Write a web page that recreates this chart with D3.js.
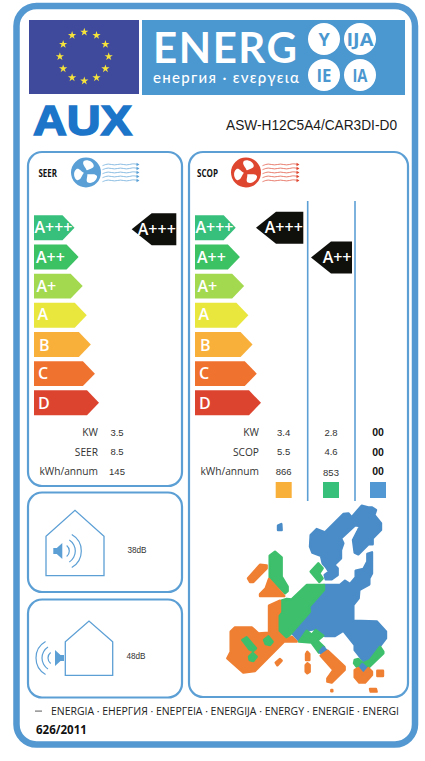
<!DOCTYPE html>
<html><head><meta charset="utf-8">
<script src="https://cdn.jsdelivr.net/npm/d3@7/dist/d3.min.js"></script>
<style>html,body{margin:0;padding:0;background:#fff}svg{display:block}text{font-family:"Open Sans",sans-serif}</style>
</head><body><svg id="c" width="425" height="761"></svg>
<script>
const classes=["A+++","A++","A+","A","B","C","D"];
const classColors=["#37bf7c","#3cc163","#a3d94e","#e9e63d","#f9b03b","#f0722f","#dd442f"];
const seerRating=["A+++"];
const scopRatings=["A+++","A++"];
const seerLabels=["KW","SEER","kWh/annum"];
const seerValues=["3.5","8.5","145"];
const scopLabels=["KW","SCOP","kWh/annum"];
const scopValues=[["3.4","5.5","866"],["2.8","4.6","853"],["00","00","00"]];
const zoneColors=["#f9b03b","#37c07a","#5298d2"];
const noiseLabels=["38dB","48dB"];
const bannerWords=["Y","IJA","IE","IA"];
const footerText="ENERGIA · ЕНЕРГИЯ · ΕΝΕΡΓΕΙΑ · ENERGIJA · ENERGY · ENERGIE · ENERGI";
const mapOrange="#ef7f32",mapGreen="#3dbf6c",mapBlue="#4a8cc8";
const mapRegions=[
 [mapBlue,[[234,107],[244,102],[245,120],[234,120]]],
 [mapBlue,[[332,135],[350,117],[375,127],[430,72],[445,70],[455,82],[485,47],[505,52],[515,52],[528,60],[523,75],[543,100],[543,120],[518,145],[518,163],[505,163],[475,193],[464,188],[459,150],[472,125],[480,108],[465,106],[423,145],[430,160],[423,180],[423,205],[403,225],[413,235],[413,255],[395,268],[377,268],[374,255],[387,245],[377,230],[368,220],[363,198],[337,188],[330,170]]],
 [mapBlue,[[372,285],[420,285],[435,272],[450,282],[467,262],[467,242],[490,237],[502,215],[502,192],[516,187],[516,250],[508,265],[508,283],[478,300],[476,325],[460,345],[460,392],[530,394],[558,425],[558,445],[510,508],[490,513],[464,480],[464,465],[430,422],[405,438],[375,438],[345,417],[320,422],[295,450],[277,430],[330,365],[328,350],[372,300]]],
 [mapGreen,[[320,285],[372,285],[372,300],[328,350],[330,365],[258,448],[234,425],[234,372],[244,365],[244,332],[260,327],[275,328]]],
 [mapGreen,[[355,220],[368,235],[358,250],[368,265],[358,276],[332,245]]],
 [mapGreen,[[209,197],[225,185],[245,202],[245,260],[263,290],[263,303],[255,310],[209,262]]],
 [mapOrange,[[207,267],[253,318],[180,318],[180,312],[197,295]]],
 [mapOrange,[[144,265],[180,224],[200,226],[200,235],[160,276],[150,276]]],
 [mapOrange,[[207,347],[240,332],[240,365],[232,375],[232,425],[258,450],[275,440],[290,455],[252,455],[165,543],[130,548],[82,505],[92,485],[92,425],[105,412],[155,412],[175,430],[207,428]]],
 [mapGreen,[[127,450],[140,442],[168,475],[160,483],[148,478]]],
 [mapGreen,[[192,450],[205,439],[218,455],[210,465],[197,462]]],
 [mapGreen,[[147,500],[158,489],[170,500],[160,513],[149,510]]],
 [mapOrange,[[227,518],[240,507],[245,512],[232,526]]],
 [mapGreen,[[297,455],[320,422],[335,434],[347,420],[370,437],[352,452],[373,472],[357,488],[335,458]]],
 [mapBlue,[[370,472],[386,487],[372,500],[359,485]]],
 [mapOrange,[[383,482],[434,530],[434,540],[395,578],[382,575],[382,565],[400,540],[362,497]]],
 [mapOrange,[[322,485],[328,492],[328,510],[318,510],[318,492]]],
 [mapOrange,[[317,525],[322,520],[329,525],[329,545],[322,550],[317,545]]],
 [mapGreen,[[464,510],[475,507],[490,520],[510,510],[540,470],[550,485],[550,490],[500,538],[480,525],[470,530],[462,520]]],
 [mapBlue,[[477,535],[487,522],[501,535],[490,548]]],
 [mapOrange,[[464,540],[475,534],[490,552],[505,534],[516,545],[516,555],[495,578],[478,578],[464,562]]],
 [mapOrange,[[532,542],[549,542],[549,558],[532,558]]],
 [mapOrange,[[510,597],[528,597],[530,605],[512,605]]],
 [mapOrange,[[394,600],[397,600],[397,604],[394,604]]]
];
const wave=[[0,1],[6,-1],[12,1],[18,-1],[24,1],[30,-1],[35,0]];
const waveRows=[-8,-4,0,4,8];

const svg=d3.select("#c"),B="#5398d0",L="#5c9fd5";
const rect=(x,y,w,h,o={})=>{const r=svg.append("rect").attr("x",x).attr("y",y).attr("width",w).attr("height",h);for(const k in o)r.attr(k,o[k]);return r;};
const text=(s,x,y,o={})=>{const t=svg.append("text").attr("x",x).attr("y",y).attr("dominant-baseline","central").text(s);for(const k in o)t.style(k,o[k]);return t;};
const LS='"Liberation Sans",sans-serif';

rect(16.5,6,398.5,738.5,{rx:20,fill:"#fff",stroke:B,"stroke-width":6.5});
// flag
rect(29,20,110,74,{fill:"#3f4a9c"});
svg.append("g").selectAll("path").data(d3.range(12)).join("path")
 .attr("d",d3.symbol(d3.symbolStar).size(21))
 .attr("transform",d=>`translate(${84.3+24.4*Math.sin(d*Math.PI/6)},${56.5-24.4*Math.cos(d*Math.PI/6)})`)
 .attr("fill","#f7e43a");
// banner
rect(142,20,263,75,{fill:"#4b97cf"});
svg.append("text").attr("x",153).attr("y",63).attr("textLength",144).attr("lengthAdjust","spacing").text("ENERG")
 .style("font-family",'Lato').style("font-size","42px").style("font-weight","700").attr("fill","#fff");
text("енергия · ενεργεια",153,76.5,{"font-size":"15px","font-weight":"500",fill:"#fff","font-family":"Lato"}).attr("textLength",146);
const bx=d3.scalePoint().domain([0,1]).range([324,360]),by=d3.scalePoint().domain([0,1]).range([39,75]);
bannerWords.forEach((w,i)=>{
 const cx=bx(i%2),cy=by(i>>1);
 svg.append("circle").attr("cx",cx).attr("cy",cy).attr("r",16).attr("fill","#fff");
 text(w,cx,cy,{"font-size":"18px","font-weight":"700",fill:"#4b97cf","text-anchor":"middle"}).attr("textLength",w.length>2?27:(w.length>1?15:null)).attr("lengthAdjust","spacingAndGlyphs");
});
// logo + model
svg.append("text").attr("x",33).attr("y",135.4).attr("textLength",99).attr("lengthAdjust","spacingAndGlyphs").text("AUX")
 .style("font-family",LS).style("font-weight","700").style("font-size","43px").attr("fill","#1c75c9").attr("stroke","#1c75c9").attr("stroke-width",1.6);
text("ASW-H12C5A4/CAR3DI-D0",226,125,{"font-size":"14px","font-family":LS,fill:"#1a1a1a"}).attr("textLength",171).attr("lengthAdjust","spacingAndGlyphs");
// panels
[[28,152,154,334],[189,152,219,545],[28,492.5,154,99.5],[28,599.5,154,98]].forEach(p=>rect(p[0],p[1],p[2],p[3],{rx:14,fill:"#fff",stroke:L,"stroke-width":2.2}));
// fans
function fan(cx,cy,col){
 svg.append("circle").attr("cx",cx).attr("cy",cy).attr("r",15).attr("fill",col);
 [20,140,260].forEach(a=>svg.append("path").attr("transform",`translate(${cx},${cy}) rotate(${a})`)
  .attr("d","M0,-2C-2,-5 -7,-6 -6,-10C-4,-13 3,-13 5,-9C6,-6 2,-5 0,-2Z").attr("fill","#fff"));
 svg.append("circle").attr("cx",cx).attr("cy",cy).attr("r",2.2).attr("fill",col);
 const wx=d3.scaleLinear().domain([0,35]).range([cx+16.5,cx+51.5]);
 const ln=d3.line().x(d=>wx(d[0])).curve(d3.curveBasis);
 waveRows.forEach(r=>{
  svg.append("path").attr("d",ln.y(d=>cy+r+d[1]*1.2)(wave)).attr("fill","none").attr("stroke",col).attr("stroke-width",.7);
  svg.append("path").attr("d",d3.symbol(d3.symbolTriangle).size(5)).attr("transform",`translate(${wx(35)},${cy+r}) rotate(90)`).attr("fill",col);
 });
}
fan(86,172.5,"#5aa0d6");fan(246,172.5,"#de4630");
text("SEER",38.5,172.5,{"font-size":"10px","font-weight":"700",fill:"#111"}).attr("textLength",18.5).attr("lengthAdjust","spacingAndGlyphs");
text("SCOP",197,172.5,{"font-size":"10px","font-weight":"700",fill:"#111"}).attr("textLength",21).attr("lengthAdjust","spacingAndGlyphs");
// energy scale
const yClass=d3.scaleBand().domain(classes).range([215.3,415.3]).paddingInner(.145).paddingOuter(0);
const tip=d3.scaleLinear().domain([0,6]);
const labelPad={"A+++":.5,"A++":2,"A+":2.5,"A":3.5,"B":5,"C":4,"D":4};
const labelNudge={"A+++":0,"A++":0,"A+":0,"A":-1,"B":1.3,"C":0,"D":0};
function ladder(x0,x1,x2){
 tip.range([x1,x2]);
 classes.forEach((c,i)=>{
  const y=yClass(c),h=yClass.bandwidth(),t=tip(i);
  svg.append("path").attr("d",d3.line()([[x0,y],[t-12,y],[t,y+h/2],[t-12,y+h],[x0,y+h]])+"Z").attr("fill",classColors[i]);
  const lab=svg.append("text").attr("x",x0+labelPad[c]).attr("y",y+h/2+5.7+labelNudge[c]).text(c).style("font-size","16px").style("font-weight","600").attr("fill","#fff");
  if(c==="A+++")lab.attr("textLength",38).attr("lengthAdjust","spacingAndGlyphs");
 });
}
ladder(34,74.5,99);ladder(195,235.7,261);
function badge(c,x0,x1,dy){
 const y=yClass(c)+dy,h=32;
 svg.append("path").attr("d",d3.line()([[x0,y+h/2],[x0+20,y],[x1,y],[x1,y+h],[x0+20,y+h]])+"Z").attr("fill","#0f0f0c");
 svg.append("text").attr("x",x1-0.5).attr("y",y+h/2+5.7).attr("text-anchor","end").text(c).style("font-size","16px").style("font-weight","600").attr("fill","#fff");
}
badge(seerRating[0],131.7,176.3,-2);
badge(scopRatings[0],256,303.3,-3.6);
badge(scopRatings[1],311,352,-3);
// separators
[307.7,355].forEach(x=>svg.append("line").attr("x1",x).attr("x2",x).attr("y1",201).attr("y2",501).attr("stroke",L).attr("stroke-width",1.6));
// tables
const rowY=d3.scalePoint().domain([0,1,2]).range([432,471]);
seerLabels.forEach((s,i)=>{
 text(s,98,rowY(i),{"font-size":"10.2px",fill:"#333","text-anchor":"end"});
 text(seerValues[i],117,rowY(i),{"font-size":"9.5px","font-family":LS,fill:"#333","text-anchor":"middle"});
});
const colX=[283.7,331,378];
scopLabels.forEach((s,i)=>text(s,259,rowY(i),{"font-size":"10.2px",fill:"#333","text-anchor":"end"}));
scopValues.forEach((col,j)=>col.forEach((v,i)=>text(v,colX[j],rowY(i)+(j===1&&i===2?1:0),{"font-size":j===2?"10.5px":"9.5px","font-family":LS,"font-weight":j===2?"700":"400",fill:j===2?"#111":"#333","text-anchor":"middle"})));
zoneColors.forEach((c,j)=>rect(colX[j]-8,482,16,16,{fill:c}));
// houses
function house(x0,x1,yT,yS,yB){
 svg.append("path").attr("d",d3.line()([[x0,yB],[x0,yS],[(x0+x1)/2,yT],[x1,yS],[x1,yB]])+"Z").attr("fill","none").attr("stroke",L).attr("stroke-width",1.3);
}
house(46,104,510.3,536.3,575.7);house(65.3,112.7,621,641.7,675.3);
function speaker(x,y,dir){
 svg.append("path").attr("d",d3.line()([[x,y-3],[x+dir*3.5,y-3],[x+dir*9,y-8],[x+dir*9,y+8],[x+dir*3.5,y+3],[x,y+3]])+"Z").attr("fill",L);
 const sx=x+dir*9;
 [[7,.9],[13,1],[19,1.05]].forEach(([r,a])=>{
  const arc=d3.arc().innerRadius(r-.6).outerRadius(r+.6).startAngle(dir>0?Math.PI/2-a:-Math.PI/2-a).endAngle(dir>0?Math.PI/2+a:-Math.PI/2+a);
  svg.append("path").attr("d",arc()).attr("transform",`translate(${sx},${y})`).attr("fill",L);
 });
}
speaker(53.3,551,1);speaker(64,658,-1);
text(noiseLabels[0],137,550,{"font-size":"8.2px","font-family":LS,fill:"#333","text-anchor":"middle"});
text(noiseLabels[1],136,656,{"font-size":"8.2px","font-family":LS,fill:"#333","text-anchor":"middle"});
// map
const mx=d3.scaleLinear().domain([0,630]).range([200,410]),my=d3.scaleLinear().domain([0,630]).range([490,700]);
const mapLine=d3.line().x(d=>mx(d[0])).y(d=>my(d[1])).curve(d3.curveLinearClosed);
svg.append("g").selectAll("path").data(mapRegions).join("path").attr("d",d=>mapLine(d[1])).attr("fill",d=>d[0]).attr("stroke",d=>d[0]).attr("stroke-width",2.4).attr("stroke-linejoin","round");
// footer
rect(35,710.5,7,1.2,{fill:"#777"});
text(footerText,51,711,{"font-size":"10.5px",fill:"#222"}).attr("textLength",348).attr("lengthAdjust","spacingAndGlyphs");
text("626/2011",36,729.5,{"font-size":"11.5px","font-weight":"700",fill:"#111"});
</script></body></html>
